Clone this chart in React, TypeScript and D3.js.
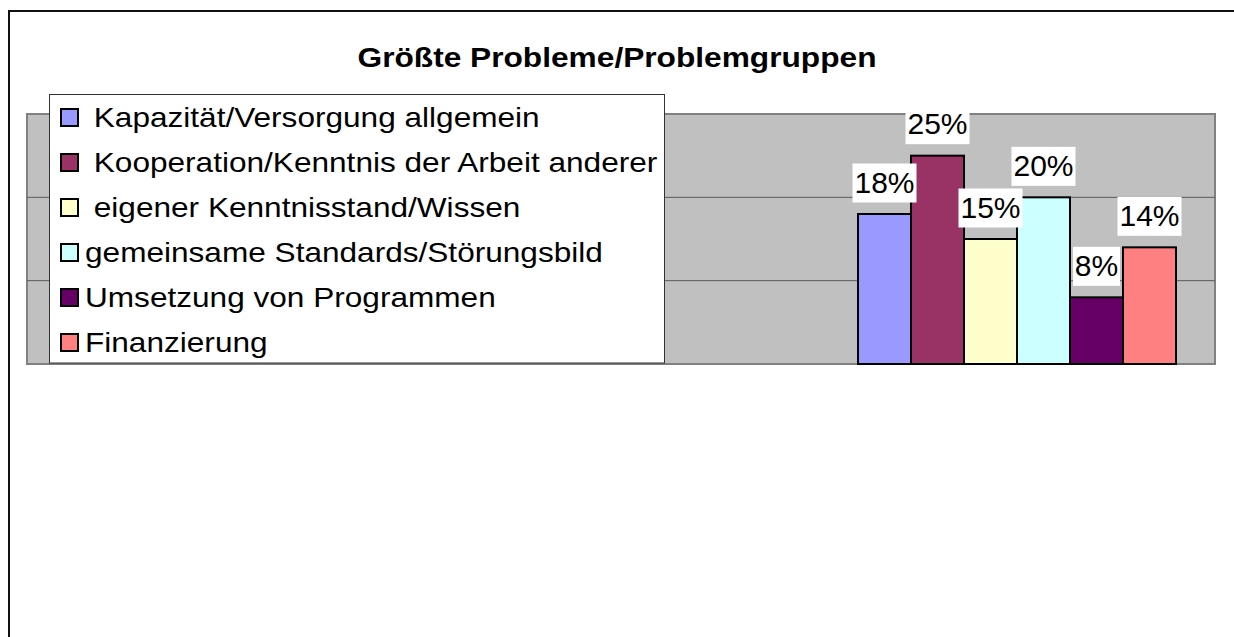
import React, { useEffect } from 'react';
import * as d3 from 'd3';

const title = 'Größte Probleme/Problemgruppen';
const series = [
  ' Kapazität/Versorgung allgemein',
  ' Kooperation/Kenntnis der Arbeit anderer',
  ' eigener Kenntnisstand/Wissen',
  'gemeinsame Standards/Störungsbild',
  'Umsetzung von Programmen',
  'Finanzierung',
];
const values = [0.18, 0.25, 0.15, 0.2, 0.08, 0.14];
const gridTicks = [0.1, 0.2];
const colors = ['#9999ff', '#993366', '#ffffcc', '#ccffff', '#660066', '#ff8080'];

const W = 1234;
const H = 637;
const font = '"Liberation Sans", Arial, sans-serif';

const plot = { left: 27, right: 1215, top: 114, bottom: 364 };

export default function App() {
  useEffect(() => {
    document.documentElement.style.overflow = 'hidden';
    document.body.style.overflow = 'hidden';
  }, []);

  const y = d3.scaleLinear().domain([0, 0.3]).range([plot.bottom, plot.top]);
  const x = d3.scaleBand<string>().domain(series).range([858, 1176]).padding(0);
  const pct = d3.format('.0%');

  return (
    <svg
      width={W}
      height={H}
      style={{ position: 'fixed', left: 0, top: 0, display: 'block', background: '#fff' }}
      fontFamily={font}
    >
      {/* chart frame: continues past the right and bottom edges */}
      <path d={`M${W + 10},11H9V${H + 10}`} fill="none" stroke="#111" strokeWidth={2} />

      <text
        x={617}
        y={67}
        textAnchor="middle"
        fontSize={28}
        fontWeight="bold"
        textLength={519}
        lengthAdjust="spacingAndGlyphs"
      >
        {title}
      </text>

      {/* plot area */}
      <rect
        x={plot.left}
        y={plot.top}
        width={plot.right - plot.left}
        height={plot.bottom - plot.top}
        fill="#c0c0c0"
        stroke="#808080"
        strokeWidth={2}
      />
      {gridTicks.map((t) => (
        <line
          key={t}
          x1={plot.left}
          x2={plot.right}
          y1={y(t)}
          y2={y(t)}
          stroke="#5a5a5a"
          strokeWidth={1}
        />
      ))}

      {series.map((s, i) => (
        <rect
          key={s}
          x={x(s)}
          y={y(values[i])}
          width={x.bandwidth()}
          height={y(0) - y(values[i])}
          fill={colors[i]}
          stroke="#000"
          strokeWidth={2}
        />
      ))}

      {/* data labels */}
      {series.map((s, i) => {
        const cx = (x(s) as number) + x.bandwidth() / 2;
        const bottom = y(values[i]) - 11.5;
        const label = pct(values[i]);
        const w = label.length === 2 ? 47 : 64;
        return (
          <g key={s}>
            <rect x={cx - w / 2} y={bottom - 39} width={w} height={39} fill="#fff" />
            <text x={cx} y={bottom - 10} textAnchor="middle" fontSize={30}>
              {label}
            </text>
          </g>
        );
      })}

      {/* legend */}
      <rect x={49.5} y={94.5} width={615} height={268.5} fill="#fff" stroke="#333" strokeWidth={1} />
      {series.map((s, i) => {
        const cy = 117.5 + i * 45;
        return (
          <g key={s}>
            <rect x={61} y={cy - 8.5} width={17} height={17} fill={colors[i]} stroke="#000" strokeWidth={2} />
            <text
              transform={`translate(85,${cy + 9}) scale(1.17,1)`}
              fontSize={27}
              xmlSpace="preserve"
              style={{ whiteSpace: 'pre' }}
            >
              {s}
            </text>
          </g>
        );
      })}
    </svg>
  );
}
